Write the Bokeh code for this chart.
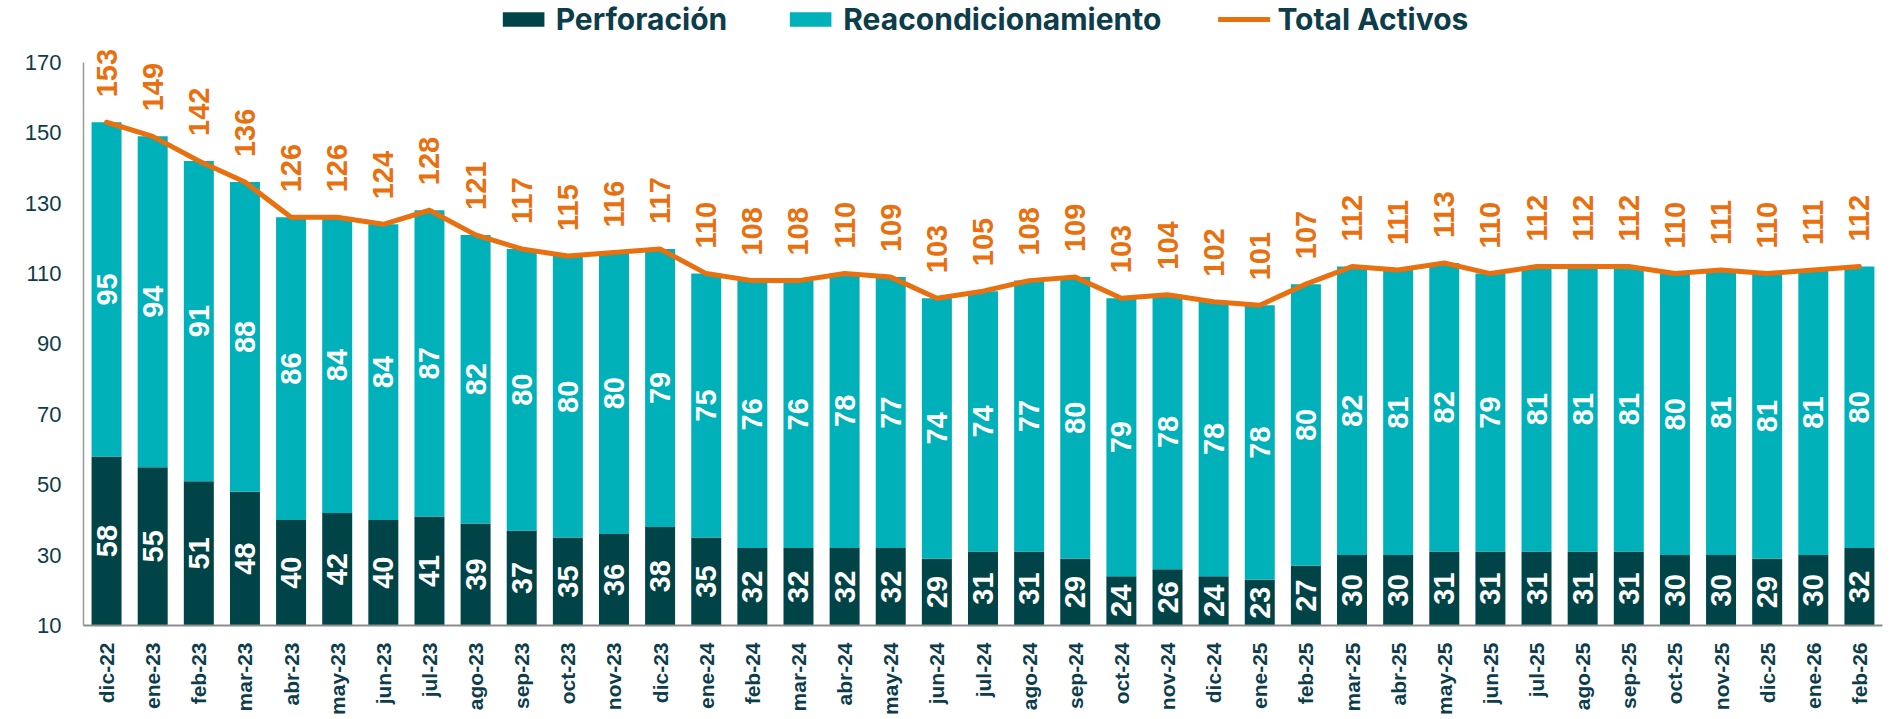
import math
from bokeh.plotting import figure
from bokeh.models import (FactorRange, Range1d, FixedTicker, Legend, LegendItem,
                          ColumnDataSource)
from bokeh.embed import file_html
from bokeh.resources import INLINE
from bokeh.core.properties import value

months = ["dic-22", "ene-23", "feb-23", "mar-23", "abr-23", "may-23", "jun-23", "jul-23",
          "ago-23", "sep-23", "oct-23", "nov-23", "dic-23", "ene-24", "feb-24", "mar-24",
          "abr-24", "may-24", "jun-24", "jul-24", "ago-24", "sep-24", "oct-24", "nov-24",
          "dic-24", "ene-25", "feb-25", "mar-25", "abr-25", "may-25", "jun-25", "jul-25",
          "ago-25", "sep-25", "oct-25", "nov-25", "dic-25", "ene-26", "feb-26"]

perforacion = [58, 55, 51, 48, 40, 42, 40, 41, 39, 37, 35, 36, 38, 35, 32, 32, 32, 32, 29, 31,
               31, 29, 24, 26, 24, 23, 27, 30, 30, 31, 31, 31, 31, 31, 30, 30, 29, 30, 32]

reacondicionamiento = [95, 94, 91, 88, 86, 84, 84, 87, 82, 80, 80, 80, 79, 75, 76, 76, 78, 77,
                       74, 74, 77, 80, 79, 78, 78, 78, 80, 82, 81, 82, 79, 81, 81, 81, 80, 81,
                       81, 81, 80]

total_activos = [153, 149, 142, 136, 126, 126, 124, 128, 121, 117, 115, 116, 117, 110, 108, 108,
                 110, 109, 103, 105, 108, 109, 103, 104, 102, 101, 107, 112, 111, 113, 110, 112,
                 112, 112, 110, 111, 110, 111, 112]

y_ticks = [10, 30, 50, 70, 90, 110, 130, 150, 170]

DARK = "#014447"
TEAL = "#00B1B9"
ORANGE = "#E8700E"
TEXT = "#0D3D4B"
Y_MIN = 10

src = ColumnDataSource(dict(
    month=months,
    perf=perforacion,
    reac=reacondicionamiento,
    total=total_activos,
    perf_y=[(Y_MIN + p) / 2 for p in perforacion],
    reac_y=[p + r / 2 for p, r in zip(perforacion, reacondicionamiento)],
    perf_txt=[str(v) for v in perforacion],
    reac_txt=[str(v) for v in reacondicionamiento],
    total_txt=[str(v) for v in total_activos],
))

p = figure(x_range=FactorRange(factors=months, range_padding=0),
           y_range=Range1d(Y_MIN, 187.6),
           width=1896, height=719, output_backend="svg", toolbar_location=None,
           min_border_left=83, min_border_right=14, min_border_top=0, min_border_bottom=94)

bars = p.vbar_stack(["perf", "reac"], x="month", width=0.65, color=[DARK, TEAL],
                    line_color=None, source=src)
line = p.line(x="month", y="total", line_width=5, line_color=ORANGE, line_join="round",
              line_cap="round", source=src)

p.text(x="month", y="perf_y", text="perf_txt", angle=math.pi / 2, text_align="center",
       text_baseline="middle", text_color="white", text_font=value("Liberation Sans"),
       text_font_size="29px", text_font_style="bold", source=src)
p.text(x="month", y="reac_y", text="reac_txt", angle=math.pi / 2, text_align="center",
       text_baseline="middle", text_color="white", text_font=value("Liberation Sans"),
       text_font_size="29px", text_font_style="bold", source=src)
p.text(x="month", y="total", text="total_txt", angle=math.pi / 2, text_align="left",
       text_baseline="middle", text_color=ORANGE, text_font=value("Liberation Sans"),
       text_font_size="29px", text_font_style="bold", y_offset=-25, source=src)

legend = Legend(items=[LegendItem(label="Perforación", renderers=[bars[0]]),
                       LegendItem(label="Reacondicionamiento", renderers=[bars[1]]),
                       LegendItem(label="Total Activos", renderers=[line])],
                location="top_center", orientation="horizontal",
                glyph_width=52, glyph_height=18, label_standoff=7, spacing=57,
                padding=0, margin=1,
                label_text_font="Inter", label_text_font_size="30px",
                label_text_font_style="bold", label_text_color=TEXT,
                background_fill_alpha=0, border_line_color=None)
p.add_layout(legend)

p.xgrid.grid_line_color = None
p.ygrid.grid_line_color = None
p.outline_line_color = None

p.xaxis.major_label_orientation = math.pi / 2
p.xaxis.major_tick_line_color = None
p.xaxis.minor_tick_line_color = None
p.xaxis.major_tick_out = 0
p.xaxis.major_tick_in = 0
p.xaxis.major_label_standoff = 17
p.xaxis.axis_line_color = "#8C8C8C"
p.xaxis.axis_line_width = 2
p.xaxis.major_label_text_font = "Liberation Sans"
p.xaxis.major_label_text_font_size = "21px"
p.xaxis.major_label_text_font_style = "bold"
p.xaxis.major_label_text_color = TEXT

p.yaxis.ticker = FixedTicker(ticks=y_ticks)
p.yaxis.bounds = (10, 170)
p.yaxis.major_tick_line_color = None
p.yaxis.minor_tick_line_color = None
p.yaxis.major_tick_out = 0
p.yaxis.major_tick_in = 0
p.yaxis.major_label_standoff = 22
p.yaxis.axis_line_color = "#9A9A9A"
p.yaxis.axis_line_width = 1.5
p.yaxis.major_label_text_font = "Liberation Sans"
p.yaxis.major_label_text_font_size = "22px"
p.yaxis.major_label_text_color = TEXT

open("out.html", "w").write(file_html(p, INLINE))
